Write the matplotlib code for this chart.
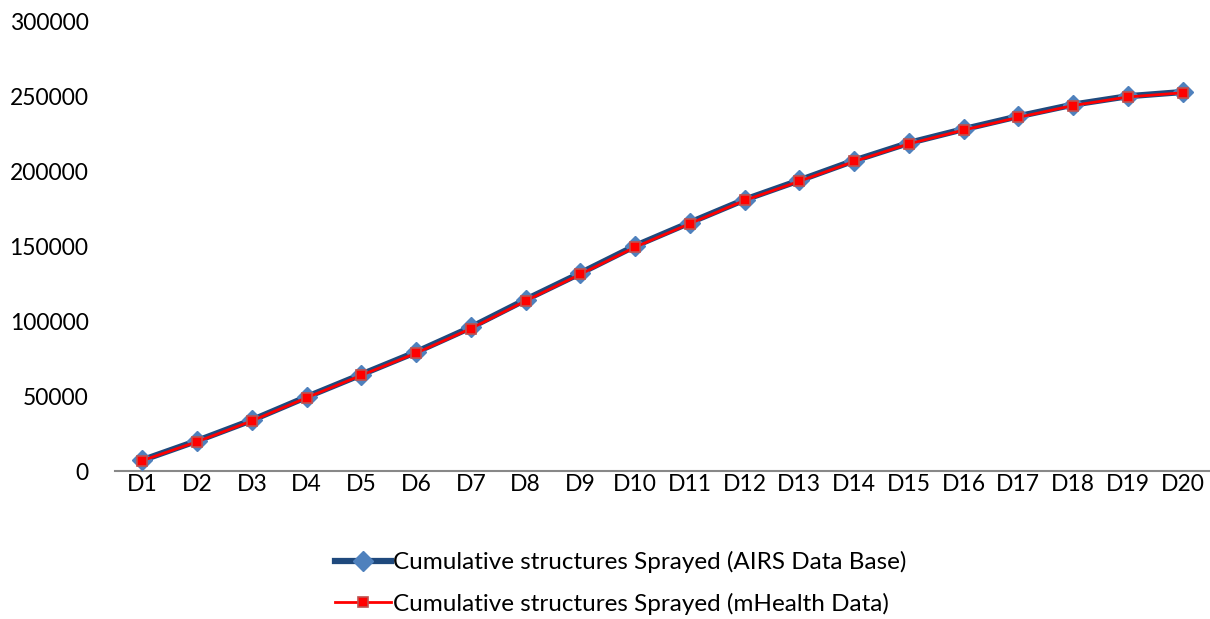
import numpy as np
from matplotlib import pyplot as plt
from matplotlib.ticker import MultipleLocator

# day labels and cumulative totals for the two data sources
days = ["D" + str(i) for i in range(1, 21)]
airs_db = [7300, 20200, 34000, 49500, 64500, 79500, 96000, 114500, 132200, 150400,
           166000, 181300, 194200, 207400, 219200, 228400, 237000, 244800, 250400, 253200]
mhealth = [7000, 19600, 33500, 49000, 64000, 78800, 95200, 113700, 131500, 149600,
           165300, 180800, 193600, 206800, 218600, 227800, 236300, 244200, 249900, 252700]

plt.rcParams['font.family'] = ['Lato', 'DejaVu Sans']

fig = plt.figure(figsize=(12.10, 6.19), dpi=100)
ax = fig.add_axes([0.095, 0.239, 0.905, 0.7255])

x = np.arange(len(days))
ax.plot(x, airs_db, color="#1F497D", linewidth=4.5, marker="D", markersize=10,
        markerfacecolor="#4F81BD", markeredgecolor="#4F81BD",
        label="Cumulative structures Sprayed (AIRS Data Base)", zorder=3)
ax.plot(x, mhealth, color="#FF0000", linewidth=2, marker="s", markersize=7,
        markerfacecolor="#FF0000", markeredgecolor="#C0504D", markeredgewidth=1.2,
        label="Cumulative structures Sprayed (mHealth Data)", zorder=4)

ax.set_xlim(-0.5, len(days) - 0.5)
ax.set_ylim(0, 300000)
ax.yaxis.set_major_locator(MultipleLocator(50000))
ax.set_xticks(x)
ax.set_xticklabels(days)
ax.tick_params(axis="both", length=0, labelsize=16.5, colors="black")
ax.tick_params(axis="y", pad=19)
ax.tick_params(axis="x", pad=2)

for side in ["top", "right", "left"]:
    ax.spines[side].set_visible(False)
ax.spines["bottom"].set_color("#888888")
ax.spines["bottom"].set_linewidth(1.5)

ax.legend(loc="upper center", bbox_to_anchor=(0.462, -0.13), ncol=1, frameon=False,
          fontsize=17.5, handlelength=2.3, handletextpad=0.1, labelspacing=0.8)

fig.savefig("out.png", dpi=100)
